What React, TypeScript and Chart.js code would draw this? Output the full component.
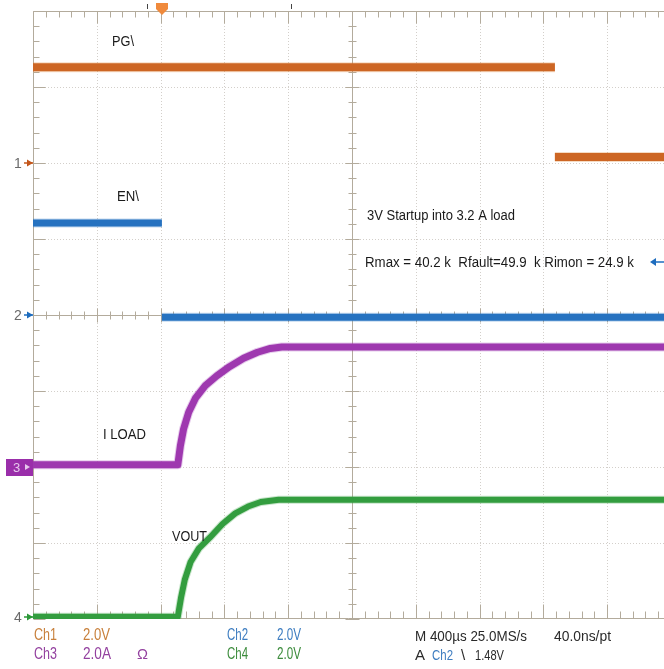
import React, { useEffect, useRef } from "react";
import { Chart, registerables } from "chart.js";

Chart.register(...registerables);

// Screen is 10 x 8 divisions; the picture is cropped at ~9.89 divisions on the right.
const X_MAX = 9.89;
const Y_MAX = 8;

// Ch1 – PG\ (orange)
const PG_X = [0, 8.18, 8.18, X_MAX];
const PG_Y = [7.26, 7.26, 6.08, 6.08];

// Ch2 – EN\ (blue)
const EN_X = [0, 2.02, 2.02, X_MAX];
const EN_Y = [5.21, 5.21, 3.97, 3.97];

// Ch3 – I LOAD (purple)
const ILOAD_X = [0, 2.27, 2.31, 2.36, 2.44, 2.55, 2.7, 2.88, 3.08, 3.3, 3.52, 3.72, 3.9, X_MAX];
const ILOAD_Y = [2.03, 2.03, 2.28, 2.5, 2.72, 2.91, 3.07, 3.2, 3.32, 3.43, 3.51, 3.56, 3.58, 3.58];

// Ch4 – VOUT (green)
const VOUT_X = [0, 2.27, 2.32, 2.38, 2.47, 2.6, 2.77, 2.97, 3.17, 3.37, 3.57, 3.85, X_MAX];
const VOUT_Y = [0.03, 0.03, 0.28, 0.52, 0.75, 0.93, 1.07, 1.25, 1.39, 1.48, 1.54, 1.57, 1.57];

const GROUND_LEVELS = [6, 4, 2, 0.03]; // channel marker levels (divisions)
const CHANNEL_NAMES = ["1", "2", "3", "4"];

const ORANGE = "#c4561a";
const BLUE = "#1d6cbe";
const PURPLE = "#9a2eaa";
const GREEN = "#2c9838";
const FRAME = "#b3ab9c";
const DOTS = "#d3cfca";

const pts = (xs: number[], ys: number[]) => xs.map((x, i) => ({ x, y: ys[i] }));

const isEdge = (c: any) => c.p0.parsed.x === c.p1.parsed.x;
const edgeHidden = (color: string) => (c: any) => (isEdge(c) ? "rgba(0,0,0,0)" : color);

const FONT = '"Liberation Sans", Arial, sans-serif';

function txt(
  ctx: CanvasRenderingContext2D,
  s: string,
  x: number,
  y: number,
  color: string,
  size: number,
  w?: number
) {
  ctx.font = `${size}px ${FONT}`;
  ctx.fillStyle = color;
  ctx.textBaseline = "middle";
  ctx.textAlign = "left";
  if (w) ctx.fillText(s, x, y, w);
  else ctx.fillText(s, x, y);
}

const scopePlugin = {
  id: "scope",
  beforeDatasetsDraw(chart: any) {
    const { ctx, chartArea, scales } = chart;
    const xs = scales.x;
    const ys = scales.y;
    const L = chartArea.left;
    const T = chartArea.top;
    const B = chartArea.bottom;
    const R = chartArea.right;
    ctx.save();
    ctx.strokeStyle = DOTS;
    ctx.lineWidth = 1;
    ctx.setLineDash([1, 2]);
    for (let i = 1; i < 10; i++) {
      if (i === 5) continue;
      const x = Math.round(xs.getPixelForValue(i)) + 0.5;
      ctx.beginPath();
      ctx.moveTo(x, T);
      ctx.lineTo(x, B);
      ctx.stroke();
    }
    for (let j = 1; j < 8; j++) {
      if (j === 4) continue;
      const y = Math.round(ys.getPixelForValue(j)) + 0.5;
      ctx.beginPath();
      ctx.moveTo(L, y);
      ctx.lineTo(R, y);
      ctx.stroke();
    }
    ctx.setLineDash([]);
    ctx.strokeStyle = FRAME;
    const cx = Math.round(xs.getPixelForValue(5)) + 0.5;
    const cy = Math.round(ys.getPixelForValue(4)) + 0.5;
    const l = Math.round(L) + 0.5;
    const t = Math.round(T) + 0.5;
    const b = Math.round(B) - 0.5;
    ctx.beginPath();
    ctx.moveTo(l, t);
    ctx.lineTo(R, t);
    ctx.moveTo(l, t);
    ctx.lineTo(l, b);
    ctx.moveTo(l, b);
    ctx.lineTo(R, b);
    ctx.moveTo(cx, t);
    ctx.lineTo(cx, b);
    ctx.moveTo(l, cy);
    ctx.lineTo(R, cy);
    ctx.stroke();
    for (let k = 0; k <= 50; k++) {
      const v = k / 5;
      if (v > X_MAX) break;
      const x = Math.round(xs.getPixelForValue(v)) + 0.5;
      const major = k % 5 === 0;
      ctx.beginPath();
      ctx.moveTo(x, t);
      ctx.lineTo(x, t + (major ? 12 : 6));
      ctx.moveTo(x, b);
      ctx.lineTo(x, b - (major ? 14 : 7));
      ctx.moveTo(x, cy - (major ? 7 : 4));
      ctx.lineTo(x, cy + (major ? 7 : 4));
      ctx.stroke();
    }
    for (let k = 0; k <= 40; k++) {
      const v = k / 5;
      const y = Math.round(ys.getPixelForValue(v)) + 0.5;
      const major = k % 5 === 0;
      ctx.beginPath();
      ctx.moveTo(l, y);
      ctx.lineTo(l + (major ? 12 : 6), y);
      ctx.moveTo(cx - (major ? 7 : 4), y);
      ctx.lineTo(cx + (major ? 7 : 4), y);
      ctx.stroke();
    }
    ctx.restore();
  },
  afterDraw(chart: any) {
    const { ctx, scales } = chart;
    const ys = scales.y;
    ctx.save();
    txt(ctx, "PG\\", 112, 42, "#1a1a1a", 15, 22);
    txt(ctx, "EN\\", 117, 197, "#1a1a1a", 15, 22);
    txt(ctx, "I LOAD", 103, 435, "#1a1a1a", 15, 43);
    txt(ctx, "VOUT", 172, 537, "#1a1a1a", 15, 35);
    txt(ctx, "3V Startup into 3.2 A load", 367, 216, "#1a1a1a", 14, 148);
    txt(ctx, "Rmax = 40.2 k  Rfault=49.9  k Rimon = 24.9 k", 365, 263, "#1a1a1a", 14, 269);

    ctx.strokeStyle = BLUE;
    ctx.fillStyle = BLUE;
    ctx.lineWidth = 1.5;
    ctx.beginPath();
    ctx.moveTo(654, 262);
    ctx.lineTo(664, 262);
    ctx.stroke();
    ctx.beginPath();
    ctx.moveTo(650, 262);
    ctx.lineTo(656, 258);
    ctx.lineTo(656, 266);
    ctx.closePath();
    ctx.fill();

    ctx.fillStyle = "#f08a3c";
    ctx.beginPath();
    ctx.moveTo(156, 3);
    ctx.lineTo(168, 3);
    ctx.lineTo(168, 9);
    ctx.lineTo(162, 15);
    ctx.lineTo(156, 9);
    ctx.closePath();
    ctx.fill();
    ctx.strokeStyle = "#444";
    ctx.lineWidth = 1;
    ctx.beginPath();
    ctx.moveTo(147.5, 4);
    ctx.lineTo(147.5, 9);
    ctx.moveTo(291.5, 4);
    ctx.lineTo(291.5, 9);
    ctx.stroke();

    const colors = [ORANGE, BLUE, PURPLE, GREEN];
    GROUND_LEVELS.forEach((lv, i) => {
      const y = Math.round(ys.getPixelForValue(lv));
      if (i === 2) {
        ctx.fillStyle = PURPLE;
        ctx.fillRect(6, y - 8, 27, 17);
        txt(ctx, CHANNEL_NAMES[i], 13, y + 1, "#e6c8ec", 13);
        ctx.fillStyle = "#e6c8ec";
        ctx.beginPath();
        ctx.moveTo(30, y);
        ctx.lineTo(25, y - 3);
        ctx.lineTo(25, y + 3);
        ctx.closePath();
        ctx.fill();
      } else {
        txt(ctx, CHANNEL_NAMES[i], 14, y + 1, "#6a6a6a", 14, 8);
        ctx.strokeStyle = colors[i];
        ctx.fillStyle = colors[i];
        ctx.lineWidth = 1.5;
        ctx.beginPath();
        ctx.moveTo(24, y);
        ctx.lineTo(33, y);
        ctx.stroke();
        ctx.beginPath();
        ctx.moveTo(33, y);
        ctx.lineTo(27, y - 3.5);
        ctx.lineTo(27, y + 3.5);
        ctx.closePath();
        ctx.fill();
      }
    });

    const C1 = "#c8803c";
    const C3 = "#93409f";
    const C2 = "#3c7cc0";
    const C4 = "#3c8c3c";
    txt(ctx, "Ch1", 34, 636, C1, 16, 23);
    txt(ctx, "2.0V", 83, 636, C1, 16, 27);
    txt(ctx, "Ch3", 34, 655, C3, 16, 23);
    txt(ctx, "2.0A", 83, 655, C3, 16, 28);
    txt(ctx, "\u03A9", 137, 655, C3, 15, 11);
    txt(ctx, "Ch2", 227, 636, C2, 16, 21);
    txt(ctx, "2.0V", 277, 636, C2, 16, 24);
    txt(ctx, "Ch4", 227, 655, C4, 16, 21);
    txt(ctx, "2.0V", 277, 655, C4, 16, 24);
    txt(ctx, "M 400\u00B5s 25.0MS/s", 415, 637, "#2a2a2a", 15, 112);
    txt(ctx, "40.0ns/pt", 554, 637, "#2a2a2a", 15, 57);
    txt(ctx, "A", 415, 656, "#2a2a2a", 15, 10);
    txt(ctx, "Ch2", 432, 656, C2, 15, 21);
    txt(ctx, "\\", 461, 656, "#2a2a2a", 15, 8);
    txt(ctx, "1.48V", 475, 656, "#2a2a2a", 15, 29);
    ctx.restore();
  },
};

function trace(label: string, xs: number[], ys: number[], color: string, halo: string, width: number) {
  return [
    {
      label: label + " halo",
      data: pts(xs, ys),
      borderColor: halo,
      borderWidth: width + 2,
      tension: 0,
      borderJoinStyle: "round",
      segment: { borderColor: edgeHidden(halo) },
    },
    {
      label,
      data: pts(xs, ys),
      borderColor: color,
      borderWidth: width,
      tension: 0,
      borderJoinStyle: "round",
      segment: { borderColor: edgeHidden(color) },
    },
  ];
}

export default function App() {
  const ref = useRef<HTMLCanvasElement>(null);
  useEffect(() => {
    const canvas = ref.current;
    if (!canvas) return;
    const chart = new Chart(canvas, {
      type: "line",
      data: {
        datasets: [
          ...trace("PG\\", PG_X, PG_Y, ORANGE, "rgba(225,140,60,0.3)", 8),
          ...trace("EN\\", EN_X, EN_Y, BLUE, "rgba(60,130,200,0.3)", 7),
          ...trace("I LOAD", ILOAD_X, ILOAD_Y, PURPLE, "rgba(170,80,190,0.3)", 7),
          ...trace("VOUT", VOUT_X, VOUT_Y, GREEN, "rgba(70,170,80,0.3)", 6),
        ],
      } as any,
      options: {
        responsive: false,
        animation: false,
        layout: { padding: { left: 33, top: 11, right: 0, bottom: 50 } },
        elements: { point: { radius: 0 } },
        scales: {
          x: { type: "linear", min: 0, max: X_MAX, display: false },
          y: { type: "linear", min: 0, max: Y_MAX, display: false },
        },
        plugins: { legend: { display: false }, tooltip: { enabled: false } },
      },
      plugins: [scopePlugin],
    });
    return () => chart.destroy();
  }, []);
  return (
    <div style={{ position: "fixed", left: 0, top: 0, width: 664, height: 669, background: "#fff" }}>
      <canvas ref={ref} width={664} height={669} style={{ display: "block" }} />
    </div>
  );
}
